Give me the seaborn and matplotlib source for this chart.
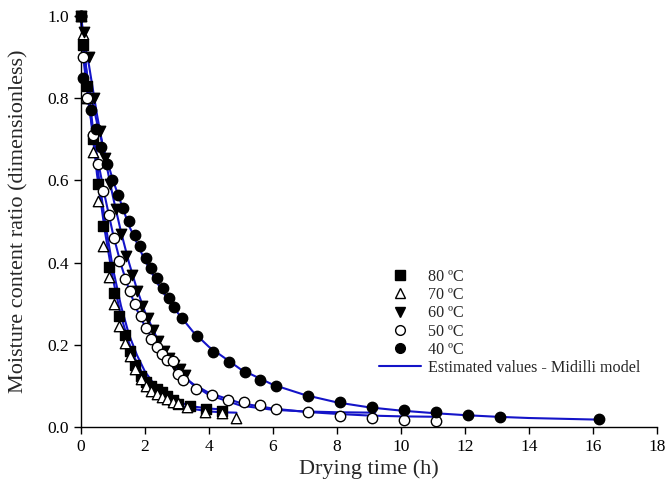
import matplotlib
matplotlib.use("Agg")
import matplotlib.pyplot as plt
import seaborn as sns
import pandas as pd
from matplotlib.lines import Line2D

# ---- observed data (drying time h, moisture ratio) ----
t80 = [0, 0.05, 0.2, 0.37, 0.53, 0.7, 0.87, 1.03, 1.2, 1.37, 1.53, 1.7, 1.87, 2.03, 2.2, 2.37, 2.53, 2.7, 2.87, 3.03, 3.4, 3.9, 4.4]
mr80 = [1.0, 0.93, 0.83, 0.70, 0.59, 0.49, 0.39, 0.325, 0.27, 0.225, 0.185, 0.15, 0.125, 0.11, 0.10, 0.092, 0.085, 0.076, 0.066, 0.057, 0.050, 0.043, 0.040]

t70 = [0, 0.05, 0.2, 0.37, 0.53, 0.7, 0.87, 1.03, 1.2, 1.37, 1.53, 1.7, 1.87, 2.03, 2.2, 2.37, 2.53, 2.7, 2.87, 3.03, 3.3, 3.87, 4.4, 4.86]
mr70 = [1.0, 0.955, 0.80, 0.67, 0.55, 0.44, 0.365, 0.30, 0.245, 0.205, 0.172, 0.142, 0.118, 0.100, 0.088, 0.080, 0.074, 0.068, 0.062, 0.058, 0.049, 0.037, 0.033, 0.021]

t60 = [0, 0.1, 0.25, 0.42, 0.58, 0.75, 0.92, 1.08, 1.25, 1.42, 1.58, 1.75, 1.92, 2.08, 2.25, 2.42, 2.58, 2.75, 2.92, 3.08, 3.25]
mr60 = [1.0, 0.96, 0.90, 0.80, 0.72, 0.655, 0.59, 0.53, 0.47, 0.415, 0.37, 0.33, 0.295, 0.265, 0.235, 0.21, 0.185, 0.168, 0.152, 0.14, 0.127]

t50 = [0, 0.05, 0.2, 0.37, 0.53, 0.7, 0.87, 1.03, 1.2, 1.37, 1.53, 1.7, 1.87, 2.03, 2.2, 2.37, 2.53, 2.7, 2.87, 3.03, 3.2, 3.6, 4.1, 4.6, 5.1, 5.6, 6.1, 7.1, 8.1, 9.1, 10.1, 11.1]
mr50 = [1.0, 0.90, 0.80, 0.71, 0.64, 0.575, 0.515, 0.46, 0.405, 0.36, 0.33, 0.30, 0.27, 0.24, 0.215, 0.195, 0.178, 0.163, 0.16, 0.13, 0.115, 0.092, 0.078, 0.066, 0.06, 0.053, 0.043, 0.037, 0.027, 0.022, 0.017, 0.014]

t40 = [0, 0.05, 0.3, 0.47, 0.63, 0.8, 0.97, 1.15, 1.32, 1.5, 1.68, 1.85, 2.03, 2.2, 2.38, 2.56, 2.74, 2.92, 3.15, 3.62, 4.12, 4.62, 5.12, 5.6, 6.1, 7.1, 8.1, 9.1, 10.1, 11.1, 12.1, 13.1, 16.2]
mr40 = [1.0, 0.85, 0.77, 0.725, 0.68, 0.64, 0.60, 0.565, 0.532, 0.50, 0.468, 0.44, 0.412, 0.388, 0.362, 0.338, 0.315, 0.293, 0.266, 0.221, 0.183, 0.158, 0.134, 0.114, 0.100, 0.076, 0.062, 0.049, 0.041, 0.036, 0.029, 0.025, 0.020]

# ---- estimated values (Midilli model curves) ----
ft80 = [0, 0.1, 0.25, 0.5, 0.75, 1.0, 1.25, 1.5, 1.75, 2.0, 2.25, 2.5, 2.75, 3.0, 3.5, 4.0, 4.4]
fm80 = [1.0, 0.92, 0.81, 0.64, 0.50, 0.385, 0.295, 0.225, 0.175, 0.135, 0.108, 0.088, 0.072, 0.062, 0.050, 0.045, 0.043]
ft70 = [0, 0.1, 0.25, 0.5, 0.75, 1.0, 1.25, 1.5, 1.75, 2.0, 2.25, 2.5, 2.75, 3.0, 3.5, 4.0, 4.4, 4.86]
fm70 = [1.0, 0.91, 0.79, 0.615, 0.475, 0.36, 0.27, 0.205, 0.155, 0.12, 0.095, 0.077, 0.063, 0.054, 0.044, 0.038, 0.036, 0.035]
ft60 = [0, 0.1, 0.25, 0.5, 0.75, 1.0, 1.25, 1.5, 1.75, 2.0, 2.5, 3.0, 3.5, 4.0, 5.0, 6.0, 7.0, 8.0, 9.2]
fm60 = [1.0, 0.94, 0.88, 0.76, 0.655, 0.56, 0.475, 0.40, 0.335, 0.28, 0.195, 0.14, 0.103, 0.078, 0.052, 0.042, 0.038, 0.036, 0.035]
ft50 = [0, 0.1, 0.25, 0.5, 0.75, 1.0, 1.25, 1.5, 1.75, 2.0, 2.5, 3.0, 3.5, 4.0, 5.0, 6.0, 7.0, 8.0, 9.0, 10.0, 11.1]
fm50 = [1.0, 0.88, 0.78, 0.66, 0.56, 0.47, 0.395, 0.335, 0.285, 0.245, 0.18, 0.135, 0.105, 0.083, 0.058, 0.045, 0.037, 0.032, 0.028, 0.026, 0.025]
ft40 = [0, 0.1, 0.25, 0.5, 0.75, 1.0, 1.5, 2.0, 2.5, 3.0, 3.5, 4.0, 5.0, 6.0, 7.0, 8.0, 9.0, 10.0, 11.0, 12.0, 13.0, 14.0, 16.2]
fm40 = [1.0, 0.90, 0.83, 0.74, 0.665, 0.60, 0.49, 0.405, 0.335, 0.28, 0.232, 0.195, 0.14, 0.103, 0.078, 0.060, 0.048, 0.040, 0.034, 0.029, 0.025, 0.022, 0.018]

labels = ["80 ºC", "70 ºC", "60 ºC", "50 ºC", "40 ºC"]
fit_label = "Estimated values - Midilli model"

sns.set_theme(style="ticks")
plt.rcParams["font.family"] = ["Liberation Serif", "DejaVu Serif"]

fig = plt.figure(figsize=(6.72, 4.96), dpi=100)
ax = fig.add_axes([0.1205, 0.139, 0.857, 0.829])

line_color = "#1414c8"
fits = [(ft80, fm80), (ft70, fm70), (ft60, fm60), (ft50, fm50), (ft40, fm40)]
for ft, fm in fits:
    sns.lineplot(x=ft, y=fm, ax=ax, color=line_color, lw=1.5, sort=False,
                 estimator=None, zorder=2, clip_on=False)

styles = [("s", "black"), ("^", "white"), ("v", "black"), ("o", "white"), ("o", "black")]
obs = [(t80, mr80), (t70, mr70), (t60, mr60), (t50, mr50), (t40, mr40)]
handles = []
for (tt, mm), (mk, fc), lab in zip(obs, styles, labels):
    sns.scatterplot(x=tt, y=mm, ax=ax, marker=mk, s=56, facecolor=fc,
                    edgecolor="black", linewidth=1.0, zorder=3, clip_on=False)
    handles.append(Line2D([], [], ls="none", marker=mk, markersize=7,
                          markerfacecolor=fc, markeredgecolor="black",
                          markeredgewidth=1.0, label=lab))
handles.append(Line2D([], [], color=line_color, lw=1.5, label=fit_label))

ax.set_xlim(0, 18)
ax.set_ylim(0, 1.0)
ax.set_xticks(range(0, 19, 2))
ax.set_yticks([0.0, 0.2, 0.4, 0.6, 0.8, 1.0])
ax.set_yticklabels(["0.0", "0.2", "0.4", "0.6", "0.8", "1.0"])
ax.tick_params(axis="both", direction="out", length=5, width=1, labelsize=12.5, colors="black")
for s in ["top", "right"]:
    ax.spines[s].set_visible(False)
for s in ["left", "bottom"]:
    ax.spines[s].set_color("black")
    ax.spines[s].set_linewidth(1.0)

ax.set_xlabel("Drying time (h)", fontsize=16, labelpad=3)
ax.set_ylabel("Moisture content ratio (dimensionless)", fontsize=16, labelpad=14)

ax.legend(handles=handles, loc="upper left", bbox_to_anchor=(0.518, 0.385),
          frameon=False, fontsize=11.6, handlelength=2.6, handletextpad=0.4,
          labelspacing=0.14, borderaxespad=0, borderpad=0)

fig.savefig("out.png", dpi=100)
